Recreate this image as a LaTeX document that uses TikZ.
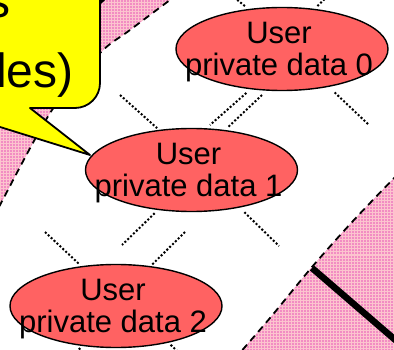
\documentclass[tikz,border=0pt]{standalone}
\usepackage{fontspec}
\setmainfont{Liberation Sans}
\usetikzlibrary{shapes.geometric}
\definecolor{bandpink}{RGB}{242,140,195}
\definecolor{bandgrid}{RGB}{252,196,206}
\definecolor{calloutyellow}{RGB}{255,255,0}
\definecolor{datared}{RGB}{255,98,98}
\tikzset{
  userell/.style={ellipse, draw=black, line width=1.4pt, fill=datared,
    minimum width=212pt, minimum height=83pt, inner sep=0pt},
  usertext/.style={font=\fontsize{31}{32}\selectfont, align=center, inner sep=0pt},
  link/.style={line width=2pt, dash pattern=on 2pt off 2pt},
  bandedge/.style={line width=1.8pt, dash pattern=on 7pt off 5pt},
  bandweave/.style={draw=bandgrid, line width=1pt, step=3pt},
  bar/.style={line width=6.5pt},
  callout/.style={draw=black, line width=1.8pt, fill=calloutyellow, line join=round},
  callouttext/.style={font=\fontsize{48}{56}\selectfont, inner sep=0pt, anchor=base west},
}
\begin{document}
\begin{tikzpicture}[x=1pt,y=-1pt]
\useasboundingbox (0,0) rectangle (394,350);
\clip (0,0) rectangle (394,350);
\fill[white] (0,0) rectangle (394,350);

% shaded bands: woven pink fill and dashed borders
\begin{scope}
  \clip plot[smooth] coordinates {(178,-6) (130,30) (100,53) (52,110) (0,205) (-6,218)}
    -- (-20,-20) -- cycle;
  \fill[bandpink] (-20,-20) rectangle (200,230);
  \draw[bandweave] (-21,-21) grid (201,231);
\end{scope}
\draw[bandedge] plot[smooth] coordinates {(178,-6) (130,30) (100,53) (52,110) (0,205) (-6,218)};
\begin{scope}
  \clip plot[smooth] coordinates {(398,174) (353,221) (312,267) (270,318) (238,355)}
    -- (400,358) -- (400,174) -- cycle;
  \fill[bandpink] (230,170) rectangle (400,360);
  \draw[bandweave] (228,168) grid (402,360);
\end{scope}
\draw[bandedge] plot[smooth] coordinates {(398,174) (353,221) (312,267) (270,318) (238,355)};

% thick bars
\draw[bar] (312,268) -- (400,344);
\draw[bar] (95,5) -- (122,-20);

% speech callout
\draw[callout] (-120,-60) -- (100,-60) -- (100,83)
  .. controls (100,96.8) and (88.8,108) .. (75,108)
  -- (30,108) -- (90,155) -- (-61,108) -- (-120,108) -- cycle;
\node[callouttext] (cs) at (-14,18) {s};
\node[callouttext] (cles) at (-4,88) {les)};

% data nodes
\node[userell] (u0) at (282,49) {};
\node[userell] (u1) at (191.5,170) {};
\node[userell] (u2) at (116,306) {};
\node[usertext] (t0) at ([xshift=-3pt,yshift=-3pt]u0.center) {User\\private data 0};
\node[usertext] (t1) at ([xshift=-3pt,yshift=-3pt]u1.center) {User\\private data 1};
\node[usertext] (t2) at ([xshift=-3pt,yshift=-3pt]u2.center) {User\\private data 2};

% free ends of the dotted links
\coordinate (f1) at (227.6,-8);
\coordinate (f2) at (332,-8);
\coordinate (f3) at (210,125);
\coordinate (f4) at (262,95);
\coordinate (f5) at (120,95);
\coordinate (f6) at (369,125);
\coordinate (f7) at (122,245);
\coordinate (f8) at (279,246);
\coordinate (f9) at (45,232);
\coordinate (f10) at (185,232);
\coordinate (f11) at (56,372);
\coordinate (f12) at (198,371);

% dotted links
\draw[link, shorten <=4.5pt] (u0.130) -- (f1);
\draw[link, shorten <=4pt] (u0.51) -- (f2);
\draw[link, shorten <=5.5pt] (u0.232) -- (f3);
\draw[link, shorten >=3pt] (f4) -- (u1.50);
\draw[link, shorten >=2.5pt] (f5) -- (u1.129);
\draw[link, shorten <=8pt] (u0.321) -- (f6);
\draw[link, shorten <=4.5pt] (u1.230) -- (f7);
\draw[link, shorten <=6.5pt] (u1.322) -- (f8);
\draw[link, shorten >=2pt] (f9) -- (u2.131);
\draw[link, shorten >=2pt] (f10) -- (u2.49);
\draw[link, shorten <=3pt] (u2.230) -- (f11);
\draw[link, shorten <=3pt] (u2.325) -- (f12);
\end{tikzpicture}
\end{document}
